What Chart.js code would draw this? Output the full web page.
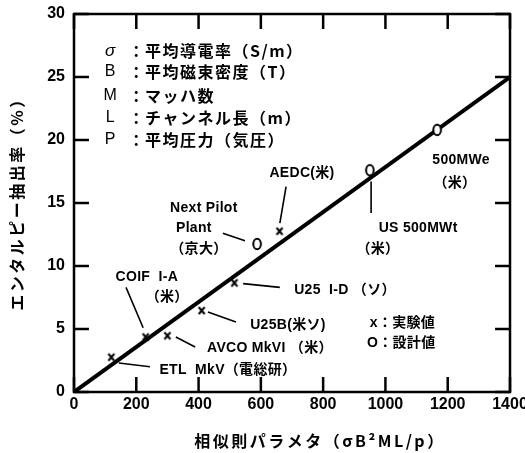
<!DOCTYPE html>
<html>
<head>
<meta charset="utf-8">
<script src="https://cdn.jsdelivr.net/npm/chart.js@4.4.0/dist/chart.umd.min.js"></script>
<style>
  html, body { margin: 0; background: #fff; }
</style>
</head>
<body>
<canvas id="chart" width="525" height="453"></canvas>
<script>
// axis ranges and tick values
const xTicks = [0, 200, 400, 600, 800, 1000, 1200, 1400];
const yTicks = [0, 5, 10, 15, 20, 25, 30];

// experimental machines (x marks)
const expNames = ["ETL MkV", "COIF I-A", "AVCO MkVI", "U25B", "U25 I-D", "AEDC"];
const expX = [120, 230, 300, 410, 515, 660];
const expY = [2.8, 4.4, 4.5, 6.5, 8.7, 12.8];

// design values (O marks)
const designNames = ["Next Pilot Plant", "US 500MWt", "500MWe"];
const designX = [588, 950, 1166];
const designY = [11.75, 17.6, 20.8];

// correlation line
const fitX = [0, 1400];
const fitY = [0, 25];

const latin = '"Liberation Sans", "Noto Sans CJK JP", sans-serif';
const cjk = '"Noto Sans CJK JP", "Liberation Sans", sans-serif';

// text labels placed in data coordinates
const notes = [
  { t: "AEDC(米)", x: 732, y: 17.4 },
  { t: "Next Pilot", x: 417, y: 14.6 },
  { t: "Plant", x: 385, y: 13.0 },
  { t: "（京大）", x: 401, y: 11.35 },
  { t: "US 500MWt", x: 1105, y: 13.0 },
  { t: "（米）", x: 976, y: 11.3 },
  { t: "500MWe", x: 1243, y: 18.4 },
  { t: "（米）", x: 1223, y: 16.6 },
  { t: "U25  I-D （ソ）", x: 870, y: 8.1 },
  { t: "COIF  I-A", x: 234, y: 9.1 },
  { t: "（米）", x: 299, y: 7.5 },
  { t: "U25B(米ソ)", x: 687, y: 5.3 },
  { t: "AVCO MkVI （米）", x: 629, y: 3.5 },
  { t: "ETL  MkV（電総研）", x: 494, y: 1.75 },
  { t: "x：実験値", x: 950, y: 5.5, align: "left" },
  { t: "O：設計値", x: 941, y: 3.9, align: "left" }
];

// leader lines [x1, y1, x2, y2]
const leaders = [
  [681, 16.3, 661, 13.4],
  [478, 12.6, 549, 12.0],
  [954, 16.7, 954, 14.2],
  [543, 8.6, 661, 8.3],
  [167, 8.3, 222, 5.1],
  [430, 6.35, 520, 5.56],
  [327, 4.37, 389, 3.57],
  [144, 2.3, 244, 2.0]
];

// symbol legend (top left)
const keySymbols = ["σ", "B", "M", "L", "P"];
const keyTexts = ["平均導電率（S/m）", "平均磁束密度（T）", "マッハ数", "チャンネル長（m）", "平均圧力（気圧）"];
const keyY = [27.06, 25.4, 23.5, 21.75, 20.0];

function markImg(kind) {
  const c = document.createElement("canvas");
  c.width = 14; c.height = 16;
  const g = c.getContext("2d");
  g.strokeStyle = "#000";
  g.lineWidth = 2;
  if (kind === "o") {
    g.fillStyle = "#fff";
    g.beginPath();
    g.ellipse(7, 8, 3.8, 5.3, 0, 0, Math.PI * 2);
    g.fill();
    g.stroke();
  } else {
    g.beginPath();
    g.moveTo(4, 5); g.lineTo(10, 12);
    g.moveTo(10, 5); g.lineTo(4, 12);
    g.stroke();
  }
  return c;
}

const notesPlugin = {
  id: "notes",
  afterDraw(chart) {
    const ctx = chart.ctx;
    const a = chart.chartArea;
    const sx = chart.scales.x, sy = chart.scales.y;
    ctx.save();
    ctx.strokeStyle = "#000";
    ctx.fillStyle = "#000";

    // leader lines
    ctx.lineWidth = 1.6;
    ctx.beginPath();
    leaders.forEach(l => {
      ctx.moveTo(sx.getPixelForValue(l[0]), sy.getPixelForValue(l[1]));
      ctx.lineTo(sx.getPixelForValue(l[2]), sy.getPixelForValue(l[3]));
    });
    ctx.stroke();

    // frame and inward tick marks, drawn as line segments like the leaders
    ctx.lineWidth = 2.5;
    ctx.strokeRect(a.left, a.top, a.right - a.left, a.bottom - a.top);
    const len = 15;
    const tickSegs = [];
    xTicks.forEach(v => {
      tickSegs.push([v, yTicks[0], v, yTicks[0] + sy.getValueForPixel(a.bottom - len)]);
    });
    ctx.beginPath();
    xTicks.forEach(v => {
      const px = sx.getPixelForValue(v);
      ctx.moveTo(px, sy.getPixelForValue(0));
      ctx.lineTo(px, sy.getPixelForValue(1.2));
      ctx.moveTo(px, sy.getPixelForValue(30));
      ctx.lineTo(px, sy.getPixelForValue(28.8));
    });
    yTicks.forEach(v => {
      const py = sy.getPixelForValue(v);
      ctx.moveTo(sx.getPixelForValue(0), py);
      ctx.lineTo(sx.getPixelForValue(48), py);
      ctx.moveTo(sx.getPixelForValue(1400), py);
      ctx.lineTo(sx.getPixelForValue(1352), py);
    });
    ctx.stroke();

    // labels
    ctx.textBaseline = "middle";
    ctx.font = "bold 14px " + latin;
    ctx.letterSpacing = "0.3px";
    notes.forEach(n => {
      ctx.textAlign = n.align || "center";
      ctx.fillText(n.t, sx.getPixelForValue(n.x), sy.getPixelForValue(n.y));
    });

    // symbol key
    keySymbols.forEach((s, i) => {
      const py = sy.getPixelForValue(keyY[i]);
      ctx.letterSpacing = "0px";
      ctx.textAlign = "center";
      ctx.font = (i === 0 ? "italic 17px " : "16px ") + latin;
      ctx.fillText(s, sx.getPixelForValue(116), py);
      ctx.font = "bold 16px " + cjk;
      ctx.fillText("：", sx.getPixelForValue(200), py);
      ctx.textAlign = "left";
      ctx.letterSpacing = "1.5px";
      ctx.fillText(keyTexts[i], sx.getPixelForValue(228), py);
    });

    // axis titles
    ctx.font = "bold 16px " + cjk;
    ctx.letterSpacing = "2.5px";
    ctx.textAlign = "center";
    ctx.fillText("相似則パラメタ（σB²ML/p）", 320, 441);
    ctx.translate(17, (a.top + a.bottom) / 2 - 3);
    ctx.rotate(-Math.PI / 2);
    ctx.fillText("エンタルピー抽出率（%）", 0, 0);
    ctx.restore();
  }
};

const tickFont = { family: latin, size: 16, weight: "bold" };

new Chart(document.getElementById("chart"), {
  type: "scatter",
  data: {
    datasets: [
      {
        label: "相関",
        type: "line",
        data: fitX.map((v, i) => ({ x: v, y: fitY[i] })),
        borderColor: "#000",
        borderWidth: 4,
        pointRadius: 0,
        order: 3
      },
      {
        label: "実験値",
        data: expX.map((v, i) => ({ x: v, y: expY[i], name: expNames[i] })),
        pointStyle: markImg("x"),
        order: 1
      },
      {
        label: "設計値",
        data: designX.map((v, i) => ({ x: v, y: designY[i], name: designNames[i] })),
        pointStyle: markImg("o"),
        order: 2
      }
    ]
  },
  options: {
    responsive: false,
    devicePixelRatio: 1,
    animation: false,
    layout: { padding: { top: 14, right: 15, left: 0, bottom: 0 } },
    plugins: { legend: { display: false }, tooltip: { enabled: false } },
    scales: {
      x: {
        type: "linear", min: 0, max: 1400,
        ticks: { stepSize: 200, color: "#000", font: tickFont, padding: 3, maxRotation: 0, callback: v => String(v) },
        grid: { display: false, drawTicks: false },
        border: { display: false },
        afterFit(s) { s.height = 61; s.paddingLeft = 0; s.paddingRight = 0; }
      },
      y: {
        type: "linear", min: 0, max: 30,
        ticks: { stepSize: 5, color: "#000", font: tickFont, padding: 9, callback: v => String(v) },
        grid: { display: false, drawTicks: false },
        border: { display: false },
        afterFit(s) { s.width = 74; s.paddingTop = 0; s.paddingBottom = 0; }
      }
    }
  },
  plugins: [notesPlugin]
});
</script>
</body>
</html>
